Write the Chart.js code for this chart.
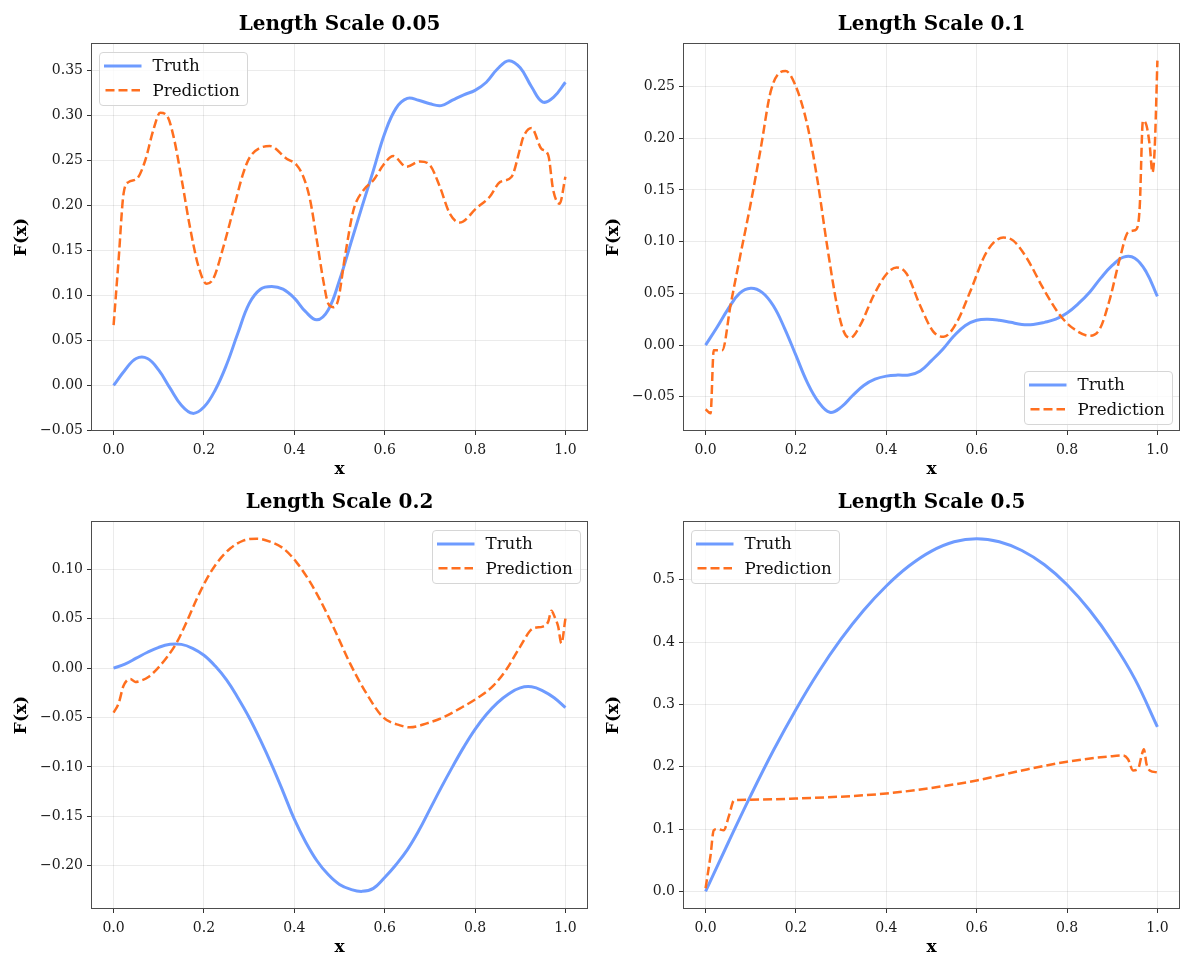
<!DOCTYPE html>
<html>
<head>
<meta charset="utf-8">
<script src="https://cdn.jsdelivr.net/npm/chart.js@4.4.1/dist/chart.umd.min.js"></script>
<style>
  html, body { margin: 0; padding: 0; background: #fff; overflow: hidden; }
  #wrap { position: relative; width: 1180px; height: 956px; overflow: hidden; }
  .panel { position: absolute; width: 590px; height: 478px; }
</style>
</head>
<body>
<div id="wrap">
  <div class="panel" style="left:0;top:0"><canvas id="c1" width="590" height="478"></canvas></div>
  <div class="panel" style="left:592px;top:0"><canvas id="c2" width="590" height="478"></canvas></div>
  <div class="panel" style="left:0;top:478px"><canvas id="c3" width="590" height="478"></canvas></div>
  <div class="panel" style="left:592px;top:478px"><canvas id="c4" width="590" height="478"></canvas></div>
</div>
<script>
// length scales of the four kernels
const lengthScales = [0.05, 0.1, 0.2, 0.5];

const xFine = [0, 0.025, 0.05, 0.075, 0.1, 0.125, 0.15, 0.175, 0.2, 0.225, 0.25, 0.275, 0.3, 0.325, 0.35, 0.375,
  0.4, 0.425, 0.45, 0.475, 0.5, 0.525, 0.55, 0.575, 0.6, 0.625, 0.65, 0.675, 0.7, 0.725, 0.75, 0.775,
  0.8, 0.825, 0.85, 0.875, 0.9, 0.925, 0.95, 0.975, 1.0];
const xCoarse = [0, 0.05, 0.1, 0.15, 0.2, 0.25, 0.3, 0.35, 0.4, 0.45, 0.5, 0.55, 0.6, 0.65, 0.7, 0.75,
  0.8, 0.85, 0.9, 0.95, 1.0];

// ---- length scale 0.05
const truth05 = [0.000, 0.017, 0.030, 0.030, 0.017, -0.003, -0.022, -0.031, -0.024, -0.005, 0.023, 0.058,
  0.091, 0.107, 0.110, 0.107, 0.097, 0.082, 0.073, 0.084, 0.117, 0.158, 0.199, 0.239, 0.280, 0.308, 0.319,
  0.317, 0.313, 0.311, 0.317, 0.323, 0.328, 0.337, 0.352, 0.361, 0.353, 0.332, 0.315, 0.321, 0.337];
const predX05 = [0, 0.011, 0.022, 0.033, 0.052, 0.070, 0.088, 0.103, 0.118, 0.133, 0.151, 0.169, 0.188,
  0.206, 0.221, 0.243, 0.265, 0.287, 0.302, 0.346, 0.383, 0.405, 0.420, 0.435, 0.450, 0.464, 0.475, 0.486,
  0.497, 0.512, 0.531, 0.553, 0.575, 0.597, 0.619, 0.648, 0.678, 0.700, 0.722, 0.744, 0.766, 0.803, 0.833,
  0.855, 0.881, 0.899, 0.906, 0.925, 0.947, 0.962, 0.973, 0.987, 1.0];
const pred05 = [0.067, 0.139, 0.213, 0.226, 0.230, 0.250, 0.284, 0.303, 0.300, 0.276, 0.228, 0.176, 0.132,
  0.113, 0.119, 0.154, 0.195, 0.236, 0.254, 0.266, 0.252, 0.245, 0.232, 0.206, 0.161, 0.117, 0.091, 0.087,
  0.095, 0.143, 0.195, 0.217, 0.228, 0.245, 0.255, 0.243, 0.249, 0.245, 0.221, 0.191, 0.181, 0.197, 0.210,
  0.226, 0.232, 0.262, 0.275, 0.286, 0.263, 0.256, 0.217, 0.202, 0.232];

// ---- length scale 0.1
const truth10 = [0.000, 0.017, 0.035, 0.050, 0.055, 0.051, 0.038, 0.016, -0.010, -0.036, -0.055, -0.065,
  -0.060, -0.049, -0.039, -0.033, -0.030, -0.029, -0.029, -0.025, -0.015, -0.004, 0.009, 0.019, 0.024, 0.025,
  0.024, 0.022, 0.020, 0.020, 0.022, 0.025, 0.031, 0.040, 0.051, 0.065, 0.077, 0.085, 0.084, 0.071, 0.047];
const predX10 = [0, 0.011, 0.018, 0.037, 0.055, 0.077, 0.099, 0.122, 0.144, 0.166, 0.177, 0.199, 0.225,
  0.247, 0.269, 0.291, 0.306, 0.320, 0.342, 0.372, 0.401, 0.423, 0.445, 0.475, 0.504, 0.527, 0.556, 0.585,
  0.622, 0.659, 0.681, 0.711, 0.747, 0.784, 0.814, 0.850, 0.873, 0.895, 0.917, 0.935, 0.950, 0.957, 0.961,
  0.968, 0.976, 0.983, 0.989, 0.994, 1.0];
const pred10 = [-0.062, -0.066, -0.005, -0.005, 0.038, 0.087, 0.135, 0.190, 0.245, 0.264, 0.265, 0.251,
  0.213, 0.161, 0.096, 0.038, 0.013, 0.007, 0.019, 0.048, 0.069, 0.075, 0.069, 0.038, 0.013, 0.008, 0.022,
  0.051, 0.090, 0.104, 0.101, 0.084, 0.055, 0.029, 0.016, 0.009, 0.016, 0.045, 0.084, 0.109, 0.111, 0.116,
  0.135, 0.217, 0.212, 0.193, 0.167, 0.190, 0.275];

// ---- length scale 0.2
const truth20 = [0.000, 0.004, 0.010, 0.016, 0.021, 0.024, 0.024, 0.020, 0.013, 0.002, -0.012, -0.030,
  -0.050, -0.073, -0.098, -0.125, -0.153, -0.176, -0.195, -0.209, -0.219, -0.224, -0.226, -0.223, -0.212,
  -0.199, -0.184, -0.165, -0.143, -0.121, -0.100, -0.080, -0.062, -0.047, -0.035, -0.026, -0.020, -0.019,
  -0.023, -0.030, -0.040];
const predX20 = [0, 0.011, 0.022, 0.037, 0.048, 0.059, 0.077, 0.096, 0.118, 0.140, 0.162, 0.184, 0.206,
  0.228, 0.258, 0.287, 0.317, 0.346, 0.376, 0.405, 0.435, 0.457, 0.486, 0.523, 0.560, 0.597, 0.634, 0.656,
  0.693, 0.729, 0.766, 0.803, 0.840, 0.870, 0.899, 0.928, 0.950, 0.962, 0.969, 0.976, 0.984, 0.991, 1.0];
const pred20 = [-0.045, -0.036, -0.018, -0.011, -0.014, -0.013, -0.009, -0.001, 0.011, 0.026, 0.047, 0.070,
  0.090, 0.106, 0.121, 0.129, 0.131, 0.128, 0.121, 0.107, 0.087, 0.069, 0.042, 0.005, -0.026, -0.050, -0.058,
  -0.060, -0.056, -0.050, -0.041, -0.031, -0.018, -0.001, 0.021, 0.040, 0.042, 0.047, 0.058, 0.052, 0.042,
  0.025, 0.050];

// ---- length scale 0.5
const truth50 = [0.000, 0.078, 0.154, 0.226, 0.292, 0.352, 0.405, 0.451, 0.490, 0.522, 0.546, 0.561, 0.566,
  0.561, 0.547, 0.524, 0.492, 0.451, 0.401, 0.341, 0.264];
const predX50 = [0, 0.011, 0.018, 0.026, 0.040, 0.052, 0.063, 0.092, 0.2, 0.3, 0.4, 0.5, 0.6, 0.7, 0.8, 0.9,
  0.924, 0.935, 0.946, 0.957, 0.965, 0.970, 0.976, 0.983, 1.0];
const pred50 = [0.005, 0.058, 0.098, 0.100, 0.098, 0.122, 0.146, 0.147, 0.149, 0.152, 0.157, 0.166, 0.178,
  0.194, 0.208, 0.217, 0.218, 0.212, 0.194, 0.196, 0.218, 0.228, 0.204, 0.194, 0.191];

const xTicks = [0, 0.2, 0.4, 0.6, 0.8, 1.0];
const yTicks05 = [-0.05, 0, 0.05, 0.10, 0.15, 0.20, 0.25, 0.30, 0.35];
const yTicks10 = [-0.05, 0, 0.05, 0.10, 0.15, 0.20, 0.25];
const yTicks20 = [-0.20, -0.15, -0.10, -0.05, 0, 0.05, 0.10];
const yTicks50 = [0, 0.1, 0.2, 0.3, 0.4, 0.5];

const SERIF = "'DejaVu Serif', 'Liberation Serif', serif";
const BLUE = '#6e9bff';
const ORANGE = '#ff6f1f';

Chart.defaults.font.family = SERIF;
Chart.defaults.color = '#1a1a1a';

function toPoints(xs, ys) {
  return xs.map((x, i) => ({ x: x, y: ys[i] }));
}

// matplotlib-like autoscale: data range plus 5% on each side
function padded(arrays) {
  const all = [].concat(...arrays);
  const lo = Math.min(...all), hi = Math.max(...all);
  const m = (hi - lo) * 0.05;
  return [lo - m, hi + m];
}

function fmt(v, dec) {
  return v.toFixed(dec).replace('-', '\u2212');
}

// full box around the plot area
const framePlugin = {
  id: 'frame',
  afterDatasetsDraw(chart) {
    const { ctx, chartArea: a } = chart;
    const l = Math.round(a.left) + 0.5, t = Math.round(a.top) + 0.5;
    const r = Math.round(a.right) - 0.5, b = Math.round(a.bottom) - 0.5;
    ctx.save();
    ctx.strokeStyle = '#4d4d4d';
    ctx.lineWidth = 1;
    ctx.strokeRect(l, t, r - l, b - t);
    ctx.restore();
  }
};

// legend drawn inside the axes, in a rounded box
const boxLegend = {
  id: 'boxLegend',
  afterDatasetsDraw(chart, args, opts) {
    const { ctx, chartArea: a } = chart;
    const sets = chart.data.datasets;
    ctx.save();
    ctx.font = '16.7px ' + SERIF;
    const textW = Math.max(...sets.map(d => ctx.measureText(d.label).width));
    const w = Math.round(53.5 + textW + 7), h = 53;
    const x = Math.round(opts.loc.indexOf('left') >= 0 ? a.left + 8 : a.right - 8 - w) + 0.5;
    const y = Math.round(opts.loc.indexOf('upper') >= 0 ? a.top + 9 : a.bottom - 7.5 - h) + 0.5;
    const r = 3.5;
    ctx.beginPath();
    ctx.moveTo(x + r, y);
    ctx.arcTo(x + w, y, x + w, y + h, r);
    ctx.arcTo(x + w, y + h, x, y + h, r);
    ctx.arcTo(x, y + h, x, y, r);
    ctx.arcTo(x, y, x + w, y, r);
    ctx.closePath();
    ctx.fillStyle = 'rgba(255,255,255,0.8)';
    ctx.fill();
    ctx.strokeStyle = '#d6d6d6';
    ctx.lineWidth = 1;
    ctx.stroke();
    sets.forEach((d, i) => {
      const cy = y + 13.4 + i * 24.3;
      ctx.beginPath();
      ctx.strokeStyle = d.borderColor;
      ctx.lineWidth = d.borderWidth;
      ctx.setLineDash(d.borderDash || []);
      ctx.lineCap = d.borderDash ? 'butt' : 'square';
      ctx.moveTo(x + 6, cy);
      ctx.lineTo(x + 40.5, cy);
      ctx.stroke();
      ctx.setLineDash([]);
      ctx.fillStyle = '#111';
      ctx.textBaseline = 'middle';
      ctx.textAlign = 'left';
      ctx.fillText(d.label, x + 53, cy + 1);
    });
    ctx.restore();
  }
};

function makePanel(id, ls, truthX, truthY, predX, predY, yTicks, dec, loc) {
  const yLim = padded([truthY, predY]);
  const xLim = padded([truthX, predX]);
  new Chart(document.getElementById(id), {
    type: 'line',
    data: {
      datasets: [
        {
          label: 'Truth',
          data: toPoints(truthX, truthY),
          borderColor: BLUE,
          borderWidth: 3,
          pointRadius: 0,
          tension: 0.4,
          order: 1
        },
        {
          label: 'Prediction',
          data: toPoints(predX, predY),
          borderColor: ORANGE,
          borderWidth: 2.5,
          borderDash: [9, 4],
          pointRadius: 0,
          cubicInterpolationMode: 'monotone',
          order: 0
        }
      ]
    },
    options: {
      responsive: false,
      animation: false,
      events: [],
      layout: { padding: { left: 0, right: 2, top: 0, bottom: 0 } },
      plugins: {
        legend: { display: false },
        tooltip: { enabled: false },
        title: {
          display: true,
          text: 'Length Scale ' + ls,
          fullSize: false,
          color: '#000',
          font: { size: 20, weight: 'bold', family: SERIF, lineHeight: 1.2 },
          padding: { top: 13, bottom: 6 }
        },
        boxLegend: { loc: loc }
      },
      scales: {
        x: {
          type: 'linear',
          min: xLim[0],
          max: xLim[1],
          afterBuildTicks: s => { s.ticks = xTicks.map(v => ({ value: v })); },
          afterFit: s => { s.height = 47; },
          border: { display: false },
          grid: { color: 'rgba(0,0,0,0.08)', lineWidth: 1, tickColor: '#333', tickLength: 4 },
          ticks: {
            autoSkip: false, maxRotation: 0, padding: 7, color: '#1a1a1a',
            font: { size: 14 },
            callback: v => fmt(v, 1)
          },
          title: {
            display: true, text: 'x', color: '#000',
            font: { size: 17, weight: 'bold', lineHeight: 1 },
            padding: { top: 0, bottom: 0 }
          }
        },
        y: {
          min: yLim[0],
          max: yLim[1],
          afterBuildTicks: s => { s.ticks = yTicks.map(v => ({ value: v })); },
          afterFit: s => { s.width = 91; },
          border: { display: false },
          grid: { color: 'rgba(0,0,0,0.08)', lineWidth: 1, tickColor: '#333', tickLength: 4 },
          ticks: {
            padding: 4, color: '#1a1a1a',
            font: { size: 14 },
            callback: v => fmt(v, dec)
          },
          title: {
            display: true, text: 'F(x)', color: '#000',
            font: { size: 17, weight: 'bold', lineHeight: 1 },
            padding: { top: 13.5, bottom: 0 }
          }
        }
      }
    },
    plugins: [framePlugin, boxLegend]
  });
}

makePanel('c1', lengthScales[0], xFine, truth05, predX05, pred05, yTicks05, 2, 'upper left');
makePanel('c2', lengthScales[1], xFine, truth10, predX10, pred10, yTicks10, 2, 'lower right');
makePanel('c3', lengthScales[2], xFine, truth20, predX20, pred20, yTicks20, 2, 'upper right');
makePanel('c4', lengthScales[3], xCoarse, truth50, predX50, pred50, yTicks50, 1, 'upper left');
</script>
</body>
</html>
